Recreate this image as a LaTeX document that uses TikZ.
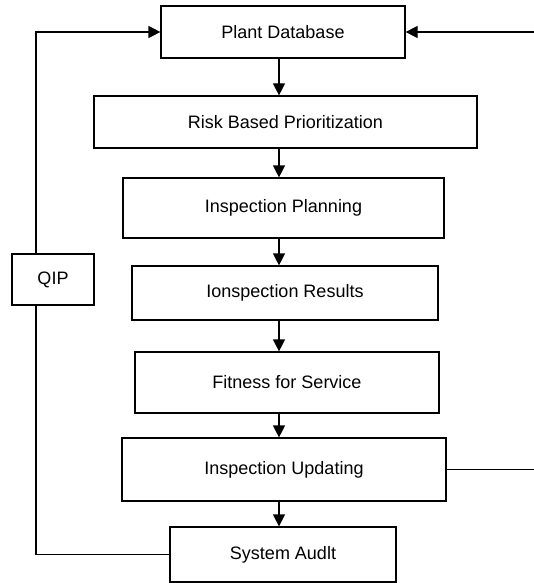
\documentclass[tikz,border=0pt]{standalone}
\usepackage{fontspec}
\setmainfont{Liberation Sans}
\usetikzlibrary{arrows.meta}

\tikzset{
  stage/.style={draw,line width=1.2pt,inner sep=0pt,font=\fontsize{18}{21}\selectfont},
  link/.style={line width=1.2pt},
}

\begin{document}
\begin{tikzpicture}[x=1pt,y=-1pt,>={Triangle[length=12pt,width=12pt]}]
  \useasboundingbox (0,0) rectangle (534,583);
  \node[stage,minimum width=244pt,minimum height=52pt] (plant) at (283,32) {Plant Database};
  \node[stage,minimum width=383pt,minimum height=52pt] (risk) at (285.5,122) {Risk Based Prioritization};
  \node[stage,minimum width=321pt,minimum height=60pt] (plan) at (283.5,208) {Inspection Planning};
  \node[stage,minimum width=306pt,minimum height=54pt] (result) at (285,293) {Ionspection Results};
  \node[stage,minimum width=304pt,minimum height=61pt] (fitness) at (287,382.5) {Fitness for Service};
  \node[stage,minimum width=324pt,minimum height=63pt] (update) at (284,469.5) {Inspection Updating};
  \node[stage,minimum width=226pt,minimum height=55pt] (audit) at (283,554.5) {System Audlt};
  \node[stage,minimum width=82pt,minimum height=51pt] (qip) at (53,279.5) {QIP};
  \coordinate (spine) at (279,0);
  \coordinate (lside) at (36,0);
  \coordinate (rside) at (537,0);
  \foreach \a/\b in {plant/risk,risk/plan,plan/result,result/fitness,fitness/update,update/audit}
    \draw[link,->] (\a.south -| spine) -- (\b.north -| spine);
  \draw[link] (audit.west) -| (qip.south -| lside);
  \draw[link,->] (qip.north -| lside) |- (plant.west);
  \draw[link,->] (update.east) -| (rside |- plant.east) -- (plant.east);
\end{tikzpicture}
\end{document}
